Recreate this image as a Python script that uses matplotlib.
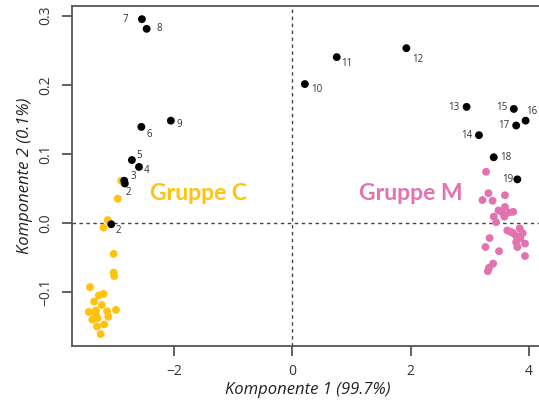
import matplotlib
matplotlib.use("Agg")
import matplotlib.pyplot as plt

# labeled black points (sample scores)
lab_names = ["7", "8", "9", "6", "5", "4", "3", "2", "2",
             "10", "11", "12", "13", "15", "16", "17", "14", "18", "19"]
lab_x = [-2.55, -2.47, -2.06, -2.56, -2.72, -2.60, -2.85, -2.84, -3.07,
         0.21, 0.75, 1.93, 2.95, 3.75, 3.95, 3.79, 3.16, 3.41, 3.81]
lab_y = [0.295, 0.281, 0.148, 0.139, 0.091, 0.081, 0.061, 0.057, -0.002,
         0.201, 0.240, 0.253, 0.168, 0.165, 0.148, 0.141, 0.127, 0.095, 0.063]
# label offsets (pixels)
lab_dx = [-17, 13, 8, 8, 7, 8, 9, 4, 7, 12, 10, 11, -13, -12, 6, -12, -12, 12, -10]
lab_dy = [0, 0, -4, -8, 5, -4, 4, -9, -6, -5, -6, -11, -1, 1, 9, 0, 0, 0, 0]

# Gruppe C (yellow)
c_x = [-2.90, -2.96, -3.13, -3.20, -3.03, -3.03, -3.02, -3.43, -3.28, -3.20,
       -3.36, -3.23, -3.45, -3.33, -3.33, -3.14, -2.99, -3.12, -3.39, -3.30,
       -3.19, -3.31, -3.25]
c_y = [0.061, 0.035, 0.004, -0.007, -0.045, -0.072, -0.077, -0.093, -0.105, -0.103,
       -0.114, -0.119, -0.129, -0.127, -0.133, -0.128, -0.126, -0.136, -0.140, -0.138,
       -0.147, -0.150, -0.161]

# Gruppe M (pink)
m_x = [3.28, 3.32, 3.22, 3.39, 3.60, 3.60, 3.49, 3.54, 3.67, 3.74, 3.41, 3.59,
       3.45, 3.64, 3.70, 3.85, 3.90, 3.79, 3.74, 3.79, 3.94, 3.81, 3.34, 3.27,
       3.50, 3.94, 3.40, 3.33, 3.31, 3.86]
m_y = [0.074, 0.043, 0.033, 0.032, 0.040, 0.023, 0.018, 0.016, 0.015, 0.016, 0.009, 0.009,
       0.001, -0.011, -0.013, -0.008, -0.015, -0.019, -0.015, -0.028, -0.030, -0.035, -0.022, -0.035,
       -0.041, -0.048, -0.059, -0.065, -0.070, -0.022]

x_ticks = [-2, 0, 2, 4]
y_ticks = [-0.1, 0.0, 0.1, 0.2, 0.3]

yellow = "#FFC20E"
pink = "#E373B0"

fig = plt.figure(figsize=(5.39, 4.03), dpi=100)
ax = fig.add_axes([0.133, 0.142, 0.875, 0.843])

ax.axhline(0, color="#444444", lw=1.0, ls=(0, (2.5, 2.5)), zorder=1)
ax.axvline(0, color="#444444", lw=1.0, ls=(0, (2.5, 2.5)), zorder=1)

ax.scatter(c_x, c_y, s=32, color=yellow, edgecolors="none", zorder=2)
ax.scatter(m_x, m_y, s=32, color=pink, edgecolors="none", zorder=2)
ax.scatter(lab_x, lab_y, s=32, color="black", edgecolors="none", zorder=3)

for n, x, y, dx, dy in zip(lab_names, lab_x, lab_y, lab_dx, lab_dy):
    ax.annotate(n, (x, y), xytext=(dx, dy), textcoords="offset pixels",
                ha="center", va="center", fontsize=7, color="#333333",
                family="Open Sans")

ax.text(-1.60, 0.043, "Gruppe C", color=yellow, fontsize=16.5,
        fontweight="bold", family="Lato", ha="center", va="center")
ax.text(2.01, 0.043, "Gruppe M", color=pink, fontsize=16.5,
        fontweight="bold", family="Lato", ha="center", va="center")

ax.set_xlim(-3.74, 4.25)
ax.set_ylim(-0.178, 0.314)
ax.set_xticks(x_ticks)
ax.set_yticks(y_ticks)
ax.set_xticklabels(["\u22122", "0", "2", "4"])
ax.set_yticklabels(["\u22120.1", "0.0", "0.1", "0.2", "0.3"], rotation=90, va="center")

for s in ax.spines.values():
    s.set_color("#555555")
    s.set_linewidth(1.3)

ax.tick_params(direction="out", length=7, width=1.3, color="#555555",
               labelsize=10, labelcolor="#333333", pad=6)
for lbl in ax.get_xticklabels() + ax.get_yticklabels():
    lbl.set_family("Open Sans")

ax.set_xlabel("Komponente 1 (99.7%)", fontsize=12, style="italic",
              family="Open Sans", color="#222222", labelpad=2)
ax.set_ylabel("Komponente 2 (0.1%)", fontsize=12, style="italic",
              family="Open Sans", color="#222222", labelpad=4)

fig.savefig("out.png", dpi=100)
